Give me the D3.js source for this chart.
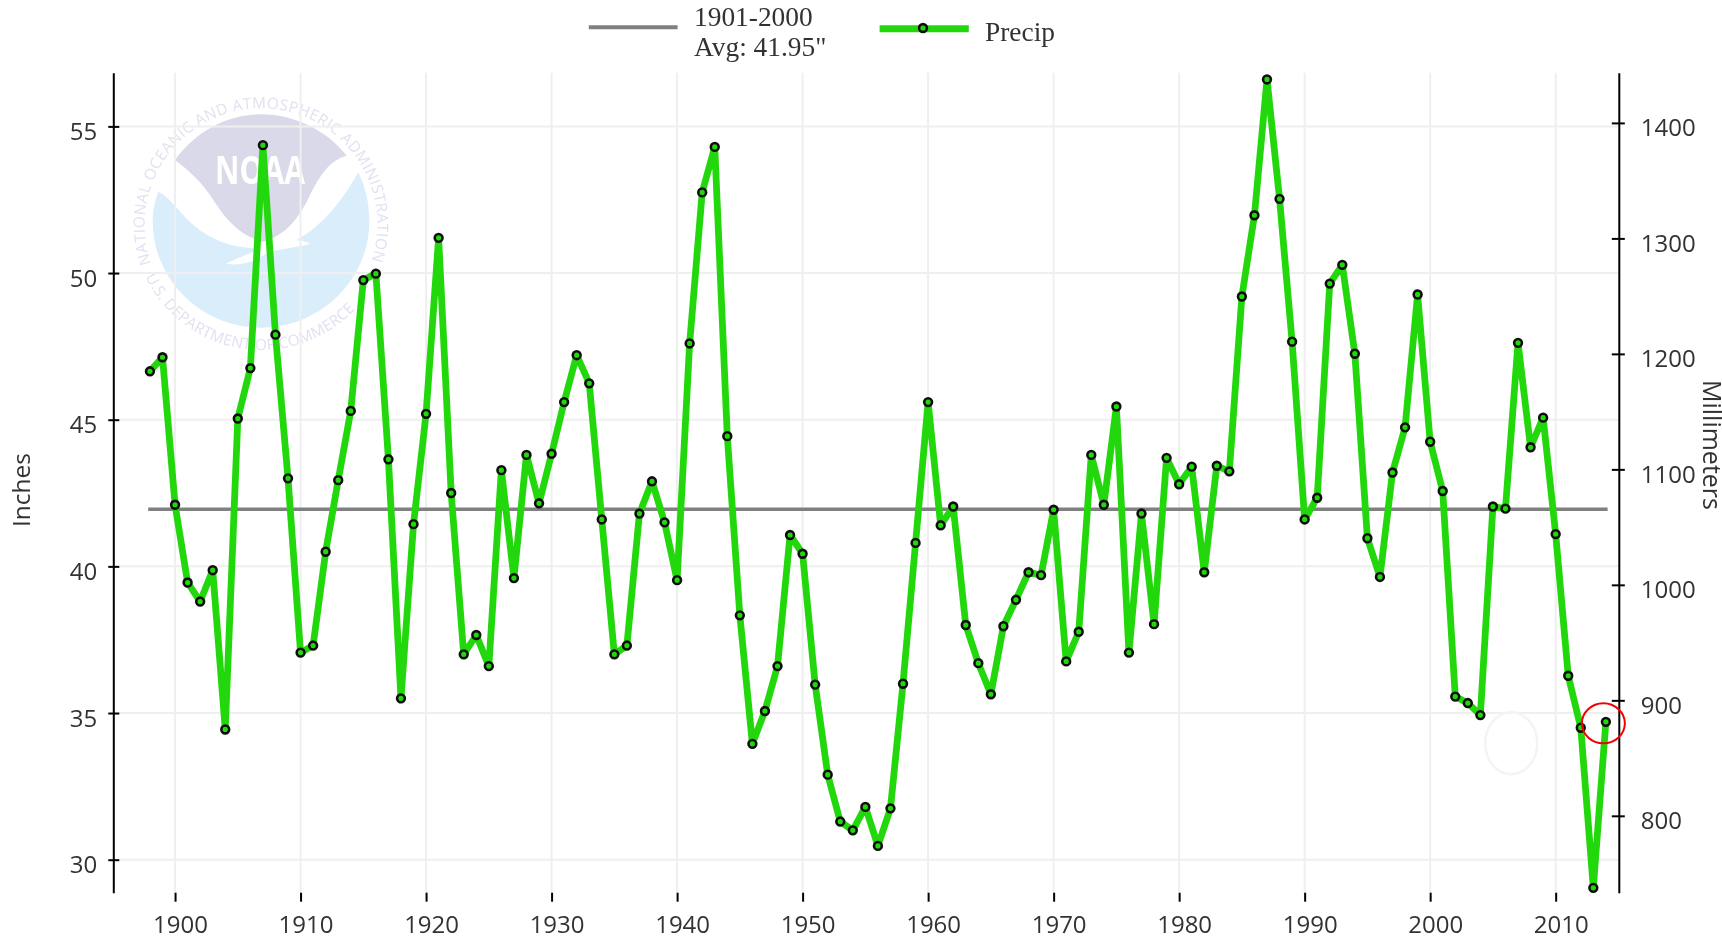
<!DOCTYPE html>
<html>
<head>
<meta charset="utf-8">
<script src="https://cdn.jsdelivr.net/npm/d3@7"></script>
<style>
    html, body { margin: 0; padding: 0; background: #fff; overflow: hidden; }
    text { font-family: "Open Sans", sans-serif; fill: #333; }
    .legend text { font-family: "Liberation Serif", serif; fill: #333; }
</style>
</head>
<body>
<div id="chart"></div>
<script>
const first_year = 1898;
const precip_inches = [
    46.65, 47.13, 42.1, 39.45, 38.8, 39.87, 34.44, 45.04, 46.76, 54.36,
    47.9, 43.0, 37.06, 37.3, 40.5, 42.94, 45.3, 49.76, 49.98, 43.65,
    35.5, 41.44, 45.2, 51.2, 42.5, 37.0, 37.66, 36.6, 43.28, 39.6,
    43.8, 42.15, 43.84, 45.6, 47.2, 46.24, 41.6, 37.0, 37.3, 41.8,
    42.9, 41.5, 39.53, 47.6, 52.75, 54.3, 44.44, 38.33, 33.95, 35.07,
    36.6, 41.07, 40.43, 35.97, 32.9, 31.3, 31.0, 31.8, 30.47, 31.75,
    36.0, 40.8, 45.6, 41.4, 42.04, 38.0, 36.7, 35.64, 37.96, 38.86,
    39.8, 39.7, 41.93, 36.76, 37.77, 43.8, 42.1, 45.45, 37.06, 41.8,
    38.03, 43.7, 42.8, 43.4, 39.8, 43.43, 43.24, 49.2, 51.97, 56.6,
    52.53, 47.66, 41.6, 42.34, 49.64, 50.28, 47.25, 40.96, 39.64, 43.2,
    44.74, 49.27, 44.25, 42.57, 35.56, 35.34, 34.93, 42.04, 41.97, 47.62,
    44.06, 45.07, 41.1, 36.27, 34.5, 29.04, 34.7
];
const avg_inches = 41.95;
const avg_years = [1898, 2014];
const year_ticks = [1900, 1910, 1920, 1930, 1940, 1950, 1960, 1970, 1980, 1990, 2000, 2010];
const inch_ticks = [30, 35, 40, 45, 50, 55];
const mm_ticks = [800, 900, 1000, 1100, 1200, 1300, 1400];

let config_size = {
    svg_width: 1722,
    svg_height: 937,
    left: 113.3,
    right: 1618.8,
    top: 72.7,
    buttom: 892.7,
};
let data = precip_inches.map((v, i) => ({year: first_year + i, precip: v}));

let svg = d3.select("#chart").append("svg")
    .attr("width", config_size.svg_width).attr("height", config_size.svg_height)
    .style("display", "block");
// the reference is an enlarged screenshot, everything in it is a little soft
svg.append("defs").append("filter").attr("id", "soft")
    .attr("x", 0).attr("y", 0)
    .attr("filterUnits", "userSpaceOnUse")
    .attr("width", config_size.svg_width).attr("height", config_size.svg_height)
    .append("feGaussianBlur").attr("stdDeviation", 0.7);
let root = svg.append("g").attr("filter", "url(#soft)");
root.append("rect").attr("width", config_size.svg_width).attr("height", config_size.svg_height).attr("fill", "#fff");

let x = d3.scaleLinear().domain([1895.08, 2015.03]).range([config_size.left, config_size.right]);
let y = d3.scaleLinear().domain([28.875, 56.83]).range([config_size.buttom, config_size.top]);
let y_mm = d3.scaleLinear().domain([28.875 * 25.4, 56.83 * 25.4]).range([config_size.buttom, config_size.top]);

// noaa watermark, drawn in a 3x local space
let logo = root.append("g").attr("transform", "translate(130,85) scale(0.3333)");
logo.append("path")
    .attr("d", "M85,320 C125,340 150,385 190,420 C250,472 320,490 400,492 C520,490 620,380 685,262 C708,310 718,360 718,408 C718,585 572,728 393,728 C214,728 68,585 68,408 C68,378 74,348 85,320 Z")
    .attr("fill", "#d9edfa");
logo.append("path")
    .attr("d", "M135,225 C200,135 295,88 393,88 C490,88 590,135 650,212 C600,225 570,270 540,330 C510,395 470,450 400,470 C330,455 285,400 250,345 C215,290 180,260 135,225 Z")
    .attr("fill", "#d9d9e9");
logo.append("path")
    .attr("d", "M288,536 C320,520 360,505 400,488 C440,470 470,464 500,466 C520,468 535,472 540,477 C500,488 450,490 410,505 C380,525 340,545 288,536 Z")
    .attr("fill", "#fff");
logo.append("text").text("NOAA")
    .attr("x", 255).attr("y", 298)
    .attr("textLength", 270).attr("lengthAdjust", "spacingAndGlyphs")
    .style("font-size", "116px").style("font-weight", 700).style("fill", "#fff");
logo.append("path").attr("id", "ring_top").attr("fill", "none")
    .attr("d", "M64,535 A349,349 0 1 1 722,535");
logo.append("path").attr("id", "ring_low").attr("fill", "none")
    .attr("d", "M46,575 A385,385 0 0 0 695,650");
logo.append("text").style("font-size", "46px").style("fill", "#e1e1f1")
    .append("textPath").attr("href", "#ring_top")
    .attr("textLength", 1325).attr("lengthAdjust", "spacing")
    .text("NATIONAL OCEANIC AND ATMOSPHERIC ADMINISTRATION");
logo.append("text").style("font-size", "46px").style("fill", "#e1e1f1")
    .append("textPath").attr("href", "#ring_low")
    .attr("textLength", 750).attr("lengthAdjust", "spacing")
    .text("U.S. DEPARTMENT OF COMMERCE");

// grid
root.append("g").selectAll("line").data(year_ticks).join("line")
    .attr("x1", d => x(d)).attr("x2", d => x(d))
    .attr("y1", config_size.top).attr("y2", config_size.buttom)
    .attr("stroke", "#efefef").attr("stroke-width", 2);
root.append("g").selectAll("line").data(inch_ticks).join("line")
    .attr("x1", config_size.left).attr("x2", config_size.right)
    .attr("y1", d => y(d)).attr("y2", d => y(d))
    .attr("stroke", "#efefef").attr("stroke-width", 2);

// axes
let axis_left = root.append("g").attr("transform", `translate(${config_size.left},0)`)
    .call(d3.axisLeft(y).tickValues(inch_ticks).tickSize(5).tickSizeOuter(0).tickPadding(11));
axis_left.selectAll(".tick line").attr("x2", -5).attr("x1", 6);
let axis_right = root.append("g").attr("transform", `translate(${config_size.right},0)`)
    .call(d3.axisRight(y_mm).tickValues(mm_ticks).tickFormat(d3.format("d")).tickSize(6).tickSizeOuter(0).tickPadding(16));
axis_right.selectAll(".tick line").attr("x1", -7);
let axis_bottom = root.append("g").attr("transform", `translate(0,${config_size.buttom})`)
    .call(d3.axisBottom(x).tickValues(year_ticks).tickFormat(d3.format("d")).tickSize(9).tickSizeOuter(0).tickPadding(14));
axis_bottom.select(".domain").remove();
axis_bottom.selectAll(".tick text").attr("dx", 5);

[axis_left, axis_right, axis_bottom].forEach(a => {
    a.selectAll(".domain").attr("stroke", "#000").attr("stroke-width", 2);
    a.selectAll(".tick line").attr("stroke", "#000").attr("stroke-width", 2);
    a.selectAll(".tick text").style("font-size", "24px").style("font-family", '"Open Sans", sans-serif').style("fill", "#333");
});
axis_left.selectAll(".tick text").attr("dy", "0.55em");
axis_right.selectAll(".tick text").attr("dy", "0.53em");

root.append("text").text("Inches")
    .attr("transform", "translate(30,490) rotate(-90)").attr("text-anchor", "middle")
    .style("font-size", "24.5px");
root.append("text").text("Millimeters")
    .attr("transform", "translate(1703,445) rotate(90)").attr("text-anchor", "middle")
    .style("font-size", "25px");

// average line
root.append("path")
    .datum(avg_years)
    .attr("fill", "none").attr("stroke", "#808080").attr("stroke-width", 3.5).attr("stroke-linecap", "square")
    .attr("d", d3.line().x(d => x(d)).y(() => y(avg_inches)));

// precip
root.append("path")
    .datum(data)
    .attr("fill", "none").attr("stroke", "#24d80c").attr("stroke-width", 6.8)
    .attr("stroke-linejoin", "round")
    .attr("d", d3.line().x(d => x(d.year)).y(d => y(d.precip)));
root.append("g").selectAll("circle").data(data).join("circle")
    .attr("cx", d => x(d.year)).attr("cy", d => y(d.precip)).attr("r", 3.9)
    .attr("fill", "#24d80c").attr("stroke", "#111").attr("stroke-width", 2.6);

// the two rings somebody drew on the picture
root.append("ellipse")
    .attr("cx", x(2006.46)).attr("cy", y(33.97)).attr("rx", 26).attr("ry", 31)
    .attr("fill", "none").attr("stroke", "#f4f4f4").attr("stroke-width", 2.5);
root.append("ellipse")
    .attr("cx", x(2013.8)).attr("cy", y(34.65)).attr("rx", 21.5).attr("ry", 20)
    .attr("fill", "none").attr("stroke", "#f00000").attr("stroke-width", 2);

// legend
let legend = root.append("g").classed("legend", true);
legend.append("line").attr("x1", 588.8).attr("x2", 677.6).attr("y1", 27.3).attr("y2", 27.3)
    .attr("stroke", "#808080").attr("stroke-width", 4);
legend.append("text").text("1901-2000").attr("x", 694).attr("y", 26).style("font-size", "27.4px");
legend.append("text").text('Avg: 41.95"').attr("x", 694).attr("y", 56).style("font-size", "27.4px");
legend.append("line").attr("x1", 879.6).attr("x2", 968.8).attr("y1", 28.7).attr("y2", 28.7)
    .attr("stroke", "#24d80c").attr("stroke-width", 7);
legend.append("circle").attr("cx", 923).attr("cy", 28).attr("r", 3.9)
    .attr("fill", "#24d80c").attr("stroke", "#111").attr("stroke-width", 2.6);
legend.append("text").text("Precip").attr("x", 985).attr("y", 41).style("font-size", "27.4px");
</script>
</body>
</html>
